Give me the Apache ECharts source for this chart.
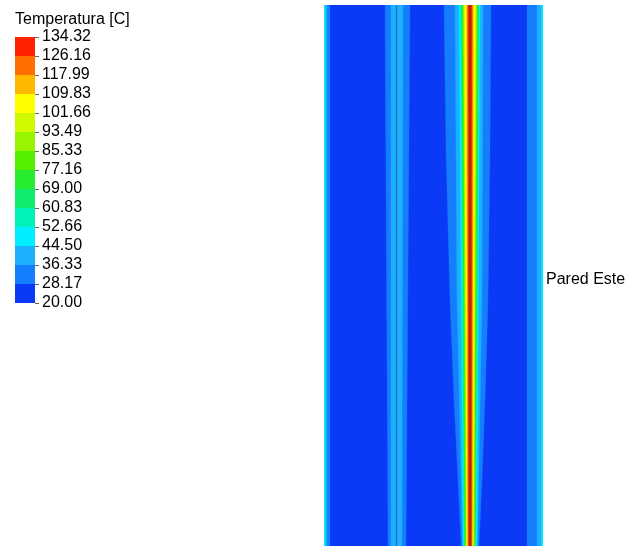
<!DOCTYPE html>
<html><head><meta charset="utf-8">
<script src="https://cdn.jsdelivr.net/npm/echarts@6/dist/echarts.min.js"></script>
<style>html,body{margin:0;padding:0;background:#fff}#c{width:633px;height:546px}</style>
</head><body><div id="c"></div>
<script>
// Legend tick labels (bottom -> top), temperature in C
const tickLabels = ['20.00','28.17','36.33','44.50','52.66','60.83','69.00','77.16','85.33','93.49','101.66','109.83','117.99','126.16','134.32'];
// One colour per contour level (level 0 = 20.00-28.17 ... level 13 = 126.16-134.32)
const levelColors = ['#0a3af6','#147eff','#1cb0ff','#00eeff','#00f2b8','#10ec70','#28ec30','#55f000','#98f400','#d0f800','#ffff00','#ffb800','#ff7000','#ff2200'];
// Domain size (width, height) in drawing units
const domainW = 219, domainH = 541;
// Contour regions: level and boundary profile [height, xLeft, xRight]
const bgBand = {level:0, profile:[[541,0,219],[0,0,219]]};
const leftWallBands = [
  {level:1, profile:[[541,0,6],[0,0,6]]},
  {level:2, profile:[[541,0,3],[0,0,3]]},
  {level:3, profile:[[541,0,1.2],[0,0,1.2]]}
];
const rightWallBands = [
  {level:1, profile:[[541,203,219],[0,203,219]]},
  {level:2, profile:[[541,213,219],[0,213,219]]},
  {level:3, profile:[[541,217.5,219],[0,217.5,219]]}
];
const plateBands = [
  {level:1, profile:[[541,61,86],[0,64,82]]},
  {level:2, profile:[[541,67,79],[0,67,78]]}
];
const hotBands = [
  {level:1, profile:[[541,120,167],[396,122,166],[246,126,164],[146,130,161],[66,134,158],[0,137,155]]},
  {level:2, profile:[[541,131,159],[246,133,158],[0,138.5,153.5]]},
  {level:3, profile:[[541,135,156],[0,139,153]]},
  {level:4, profile:[[541,136.5,155],[0,140,152]]},
  {level:5, profile:[[541,137.5,154.5],[0,140.5,151.5]]},
  {level:6, profile:[[541,138,154],[0,141,151]]},
  {level:7, profile:[[541,139,153],[0,141.5,150.5]]},
  {level:8, profile:[[541,139.5,152.5],[0,142,150]]},
  {level:9, profile:[[541,140,152],[0,142.5,149.5]]},
  {level:10, profile:[[541,141,151],[0,143,149]]},
  {level:11, profile:[[541,142.5,149.5],[0,143.5,148.5]]},
  {level:12, profile:[[541,143.5,148.5],[0,144,148]]},
  {level:13, profile:[[541,144,148],[0,144.5,147.5]]}
];
// Thin solid walls (x positions) and their colours
const wallX = [72.5, 146];
const wallColors = ['#2a6cb8', '#7a3a12'];

const bands = [bgBand].concat(leftWallBands, rightWallBands, plateBands, hotBands);
const legendLevels = levelColors.map((c, i) => i);

const chart = echarts.init(document.getElementById('c'), null, {renderer:'canvas'});
const font = 'Liberation Sans, Arial, sans-serif';

function bandItem(params, api) {
  const b = bands[params.dataIndex];
  const pts = [];
  b.profile.forEach(p => pts.push(api.coord([p[1], p[0]])));
  for (let i = b.profile.length - 1; i >= 0; i--) {
    const p = b.profile[i];
    pts.push(api.coord([p[2], p[0]]));
  }
  return {type:'polygon', shape:{points:pts}, style:{fill:levelColors[b.level], stroke:levelColors[b.level], lineWidth:0.3}};
}
function legendItem(params, api) {
  const i = legendLevels[params.dataIndex];
  const p0 = api.coord([0, i]);
  const p1 = api.coord([1, i + 1]);
  return {type:'rect', shape:{x:p0[0], y:p1[1], width:p1[0]-p0[0], height:p0[1]-p1[1]}, style:{fill:levelColors[i]}};
}

const option = {
  animation:false,
  backgroundColor:'#fff',
  title:[
    {text:'Temperatura [C]', left:15, top:12, padding:0, textStyle:{fontFamily:font, fontSize:16, fontWeight:'normal', color:'#000'}},
    {text:'Pared Este', left:546, top:272, padding:0, textStyle:{fontFamily:font, fontSize:16, fontWeight:'normal', color:'#000'}}
  ],
  grid:[
    {left:324, top:5, width:219, height:541, containLabel:false},
    {left:15, top:37, width:20, height:266, containLabel:false}
  ],
  xAxis:[
    {gridIndex:0, type:'value', min:0, max:domainW, position:'top', axisLine:{show:true, lineStyle:{color:'#c4c8d0', width:1}}, axisTick:{show:false}, axisLabel:{show:false}, splitLine:{show:false}},
    {gridIndex:1, type:'value', min:0, max:1, show:false}
  ],
  yAxis:[
    {gridIndex:0, type:'value', min:0, max:domainH, show:false},
    {gridIndex:1, type:'value', min:0, max:14, interval:1, position:'right',
     axisLine:{show:true, onZero:false, lineStyle:{color:'rgba(0,0,0,0)'}},
     axisTick:{show:true, inside:false, length:4, lineStyle:{color:'#666', width:1}},
     axisLabel:{margin:7, fontFamily:font, fontSize:16, color:'#000', formatter:v => tickLabels[v]},
     splitLine:{show:false}}
  ],
  series:[
    {type:'custom', xAxisIndex:0, yAxisIndex:0, renderItem:bandItem, clip:true,
     data:bands.map((b, i) => [b.profile[0][1], b.profile[0][0], i])},
    {type:'line', xAxisIndex:0, yAxisIndex:0, symbol:'none', data:[[wallX[0],0],[wallX[0],domainH]], lineStyle:{color:wallColors[0], width:1.2}},
    {type:'line', xAxisIndex:0, yAxisIndex:0, symbol:'none', data:[[wallX[1],0],[wallX[1],domainH]], lineStyle:{color:wallColors[1], width:1.5}},
    {type:'custom', xAxisIndex:1, yAxisIndex:1, renderItem:legendItem,
     data:legendLevels.map(i => [0, i, i])}
  ]
};
chart.setOption(option);
</script>
</body></html>
